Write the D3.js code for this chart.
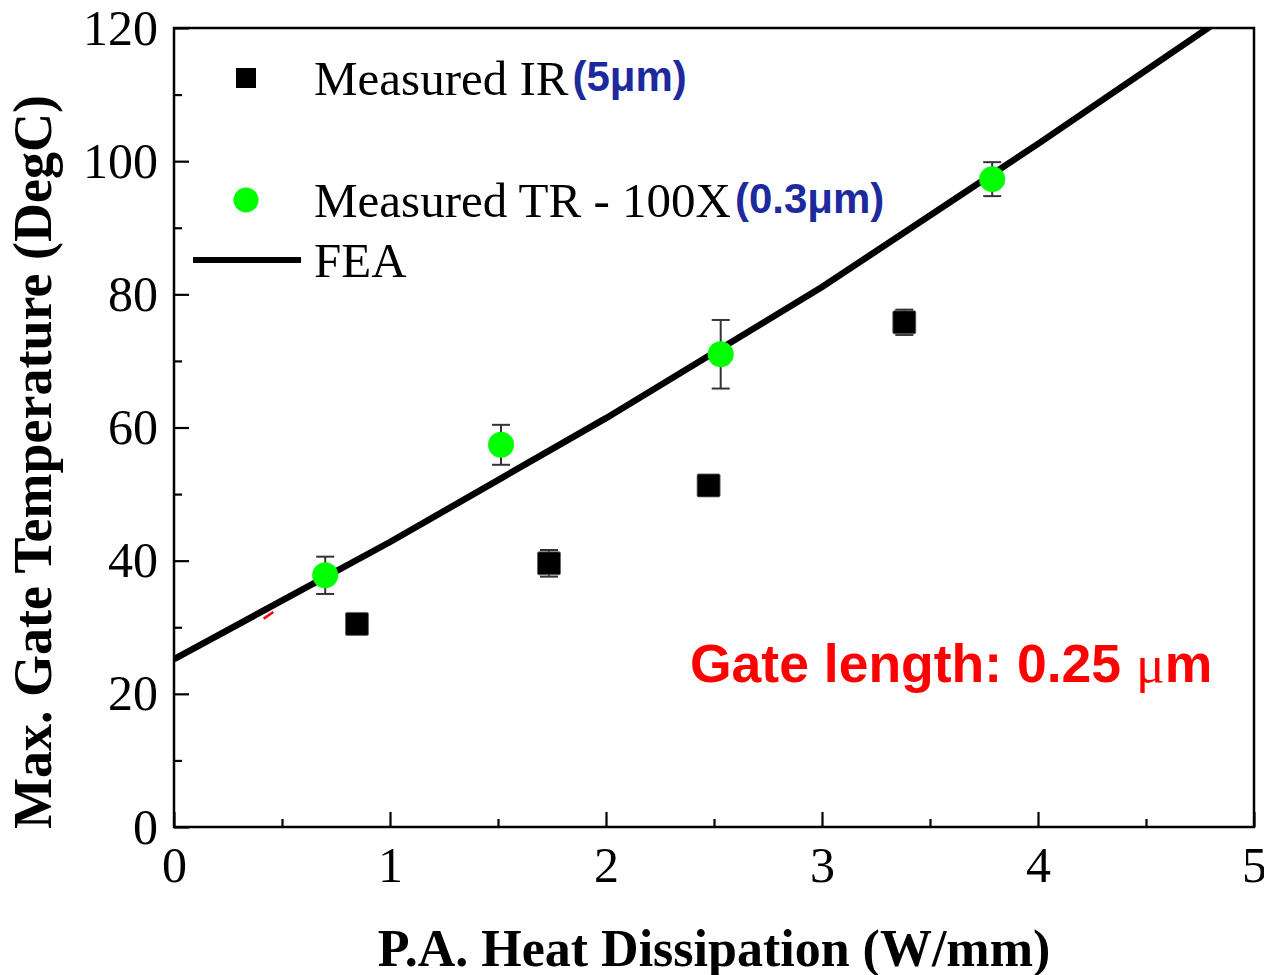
<!DOCTYPE html>
<html><head><meta charset="utf-8">
<script src="https://cdn.jsdelivr.net/npm/d3@7"></script>
<style>body{margin:0;background:#fff}</style>
</head><body>
<svg id="c" width="1264" height="975"></svg>
<script>
// ---- data ----
const irX = [0.847, 1.736, 2.475, 3.381];
const irY = [30.5, 39.6, 51.3, 75.8];
const irErr = [0.8, 2.0, 0.8, 1.9];
const trX = [0.700, 1.514, 2.531, 3.788];
const trY = [37.8, 57.4, 71.0, 97.3];
const trErr = [2.8, 3.0, 5.15, 2.55];
const feaX = [0, 1, 2, 3, 4, 5];
const feaY = [25.2, 42.8, 61.4, 81.1, 102.6, 124.7];
const strayX = [0.415, 0.46];
const strayY = [31.3, 32.3];
const xTicks = [0, 1, 2, 3, 4, 5];
const xMinor = [0.5, 1.5, 2.5, 3.5, 4.5];
const yTicks = [0, 20, 40, 60, 80, 100, 120];
const yMinor = [10, 30, 50, 70, 90, 110];
const legendLabels = ["Measured IR", "Measured TR - 100X", "FEA"];
const legendNotes = ["(5μm)", "(0.3μm)", ""];
const xTitle = "P.A. Heat Dissipation (W/mm)";
const yTitle = "Max. Gate Temperature (DegC)";
const annotation = "Gate length: 0.25 ";
const annotationUnit = "μm";

// ---- layout ----
const L = 174, R = 1254, T = 28, B = 827;
const serif = "'Liberation Serif','Times New Roman',serif";
const sans = "'Liberation Sans',Arial,sans-serif";
const svg = d3.select("#c");
const x = d3.scaleLinear().domain([0, 5]).range([L, R]);
const y = d3.scaleLinear().domain([0, 120]).range([B, T]);

svg.append("defs").append("clipPath").attr("id", "clip")
  .append("rect").attr("x", L).attr("y", T).attr("width", R - L).attr("height", B - T);

// frame
svg.append("rect").attr("x", L).attr("y", T).attr("width", R - L).attr("height", B - T)
  .attr("fill", "none").attr("stroke", "#000").attr("stroke-width", 2.5);

// axes
const xAx = svg.append("g").attr("transform", `translate(0,${B})`)
  .call(d3.axisBottom(x).tickValues(xTicks).tickFormat(d3.format("d")).tickSizeInner(-15).tickSizeOuter(0).tickPadding(19));
const xAxMinor = svg.append("g").attr("transform", `translate(0,${B})`)
  .call(d3.axisBottom(x).tickValues(xMinor).tickFormat("").tickSizeInner(-8).tickSizeOuter(0));
const yAx = svg.append("g").attr("transform", `translate(${L},0)`)
  .call(d3.axisLeft(y).tickValues(yTicks).tickFormat(d3.format("d")).tickSizeInner(-15).tickSizeOuter(0).tickPadding(16));
const yAxMinor = svg.append("g").attr("transform", `translate(${L},0)`)
  .call(d3.axisLeft(y).tickValues(yMinor).tickFormat("").tickSizeInner(-8).tickSizeOuter(0));
[xAx, xAxMinor, yAx, yAxMinor].forEach(g => {
  g.select(".domain").remove();
  g.selectAll("line").attr("stroke", "#000").attr("stroke-width", 2.2);
  g.selectAll("text").attr("font-family", serif).attr("font-size", 50).attr("fill", "#000");
});

// titles
svg.append("text").attr("x", 714).attr("y", 966).attr("text-anchor", "middle")
  .attr("font-family", serif).attr("font-weight", "bold").attr("font-size", 52).text(xTitle);
svg.append("text").attr("transform", `translate(51,462) rotate(-90)`).attr("text-anchor", "middle")
  .attr("font-family", serif).attr("font-weight", "bold").attr("font-size", 54).text(yTitle);

// FEA line
const plot = svg.append("g").attr("clip-path", "url(#clip)");
const feaData = feaX.map((d, i) => [d, feaY[i]]);
plot.append("path").datum(strayX.map((d, i) => [d, strayY[i]]))
  .attr("d", d3.line().x(d => x(d[0])).y(d => y(d[1])))
  .attr("stroke", "#ff0000").attr("stroke-width", 2.5).attr("fill", "none");
plot.append("path").datum(feaData)
  .attr("d", d3.line().x(d => x(d[0])).y(d => y(d[1])))
  .attr("fill", "none").attr("stroke", "#000").attr("stroke-width", 6.5);

// error bars
function errBars(xs, ys, es) {
  const g = svg.append("g").attr("stroke", "#333").attr("stroke-width", 2);
  xs.forEach((xv, i) => {
    const cx = x(xv), y1 = y(ys[i] + es[i]), y2 = y(ys[i] - es[i]);
    g.append("line").attr("x1", cx).attr("x2", cx).attr("y1", y1).attr("y2", y2);
    g.append("line").attr("x1", cx - 9).attr("x2", cx + 9).attr("y1", y1).attr("y2", y1);
    g.append("line").attr("x1", cx - 9).attr("x2", cx + 9).attr("y1", y2).attr("y2", y2);
  });
}
errBars(irX, irY, irErr);
errBars(trX, trY, trErr);

// IR squares
const sq = 23;
svg.append("g").selectAll("rect").data(irX).join("rect")
  .attr("x", (d) => x(d) - sq / 2).attr("y", (d, i) => y(irY[i]) - sq / 2)
  .attr("width", sq).attr("height", sq).attr("rx", 1.5)
  .attr("fill", "#000").attr("stroke", "#666").attr("stroke-width", 0.8);
// TR circles
svg.append("g").selectAll("circle").data(trX).join("circle")
  .attr("cx", d => x(d)).attr("cy", (d, i) => y(trY[i])).attr("r", 13)
  .attr("fill", "#00ff00");

// legend
const lg = svg.append("g");
lg.append("rect").attr("x", 236).attr("y", 68).attr("width", 20).attr("height", 20).attr("fill", "#000");
lg.append("circle").attr("cx", 246).attr("cy", 200).attr("r", 12.5).attr("fill", "#00ff00");
lg.append("line").attr("x1", 193).attr("x2", 301).attr("y1", 260).attr("y2", 260)
  .attr("stroke", "#000").attr("stroke-width", 6);
const lgY = [95, 217, 277];
legendLabels.forEach((t, i) => {
  const tx = lg.append("text").attr("x", 314).attr("y", lgY[i])
    .attr("font-family", serif).attr("font-size", 49).attr("fill", "#000").text(t);
  if (legendNotes[i]) {
    tx.append("tspan").attr("font-family", sans).attr("font-weight", "bold")
      .attr("font-size", 42).attr("fill", "#1c2a9e").attr("dx", 4).attr("dy", -4).text(legendNotes[i]);
  }
});

// annotation
const an = svg.append("text").attr("x", 690).attr("y", 682)
  .attr("font-family", sans).attr("font-weight", "bold").attr("font-size", 53.5).attr("fill", "#ff0000")
  .text(annotation);
an.append("tspan").attr("font-family", serif).attr("font-weight", "normal").text(annotationUnit.charAt(0));
an.append("tspan").attr("font-family", sans).attr("font-weight", "bold").text(annotationUnit.slice(1));
</script>
</body></html>
